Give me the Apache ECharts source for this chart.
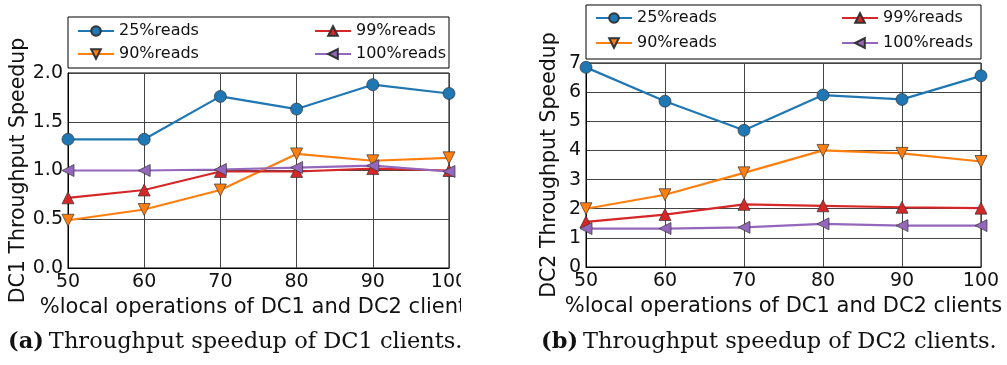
<!DOCTYPE html>
<html><head><meta charset="utf-8">
<script src="https://cdn.jsdelivr.net/npm/echarts@6/dist/echarts.min.js"></script>
<style>html,body{margin:0;padding:0;background:#fff}#c{width:1007px;height:365px}</style>
</head><body><div id="c"></div>
<script>
const xValues = [50, 60, 70, 80, 90, 100];
const seriesNames = ['25%reads', '90%reads', '99%reads', '100%reads'];
// DC1 throughput speedup
const dc1_25 = [1.32, 1.32, 1.76, 1.63, 1.88, 1.79];
const dc1_90 = [0.49, 0.60, 0.80, 1.17, 1.10, 1.13];
const dc1_99 = [0.72, 0.80, 0.99, 0.99, 1.02, 1.00];
const dc1_100 = [1.00, 1.00, 1.01, 1.03, 1.05, 0.99];
// DC2 throughput speedup
const dc2_25 = [6.85, 5.69, 4.69, 5.90, 5.75, 6.56];
const dc2_90 = [2.00, 2.48, 3.23, 4.00, 3.90, 3.62];
const dc2_99 = [1.55, 1.80, 2.15, 2.10, 2.05, 2.02];
const dc2_100 = [1.32, 1.32, 1.36, 1.48, 1.42, 1.42];
const xTitle = '%local operations of DC1 and DC2 clients';
const yTitles = ['DC1 Throughput Speedup', 'DC2 Throughput Speedup'];
const captions = [['(a)', 'Throughput speedup of DC1 clients.'], ['(b)', 'Throughput speedup of DC2 clients.']];

const colors = ['#1f77b4', '#ff7f0e', '#d62728', '#9467bd'];
const symbols = ['circle', 'triangle', 'triangle', 'triangle'];
const rotations = [0, 180, 0, 90];
const FONT = 'DejaVu Sans';

function mk(name, data, idx, axis) {
  return {
    name: name, type: 'line', xAxisIndex: axis, yAxisIndex: axis,
    data: data.map((v, i) => [xValues[i], v]),
    color: colors[idx],
    symbol: symbols[idx], symbolRotate: rotations[idx], symbolSize: 12,
    showAllSymbol: true,
    lineStyle: { width: 2.2, color: colors[idx] },
    itemStyle: { color: colors[idx], borderColor: '#333', borderWidth: 0.7 },
    emphasis: { disabled: true },
    animation: false, clip: false
  };
}
const sets = [[dc1_25, dc1_90, dc1_99, dc1_100], [dc2_25, dc2_90, dc2_99, dc2_100]];
const series = [];
sets.forEach((s, a) => s.forEach((d, i) => series.push(mk(seriesNames[i], d, i, a))));

const grids = [
  { left: 68, top: 73, width: 381, height: 195 },
  { left: 586, top: 63, width: 395, height: 204 }
];
function xAx(g) {
  return {
    type: 'value', gridIndex: g, min: 50, max: 100, interval: 10,
    axisLine: { show: true, lineStyle: { color: '#000', width: 1 } },
    axisTick: { show: false },
    axisLabel: { color: '#111', fontFamily: FONT, fontSize: 19, margin: 5 },
    splitLine: { show: true, lineStyle: { color: '#444', width: 1 } },
    name: xTitle, nameLocation: 'middle', nameGap: 19,
    nameTextStyle: { color: '#111', fontFamily: FONT, fontSize: 21 }
  };
}
function yAx(g, max, interval, digits, gap) {
  return {
    type: 'value', gridIndex: g, min: 0, max: max, interval: interval,
    axisLine: { show: true, lineStyle: { color: '#000', width: 1 } },
    axisTick: { show: false },
    axisLabel: { color: '#111', fontFamily: FONT, fontSize: 19, margin: 5,
      formatter: v => v.toFixed(digits) },
    splitLine: { show: true, lineStyle: { color: '#444', width: 1 } },
    name: yTitles[g], nameLocation: 'middle', nameGap: gap, nameRotate: 90,
    nameTextStyle: { color: '#111', fontFamily: FONT, fontSize: 20.5 }
  };
}
function lg(left, top, names, gap) {
  return {
    left: left, top: top, orient: 'vertical', itemGap: gap, itemWidth: 36, itemHeight: 12,
    data: names, selectedMode: false,
    textStyle: { fontFamily: FONT, fontSize: 16, color: '#111' }
  };
}
const option = {
  animation: false,
  grid: grids.map(g => Object.assign({ show: true, borderColor: '#000', borderWidth: 1, backgroundColor: 'transparent' }, g)),
  xAxis: [xAx(0), xAx(1)],
  yAxis: [yAx(0, 2, 0.5, 1, 39), yAx(1, 7, 1, 0, 26)],
  legend: [
    lg(72, 18, [seriesNames[0], seriesNames[1]], 7),
    lg(309, 18, [seriesNames[2], seriesNames[3]], 7),
    lg(590, 5, [seriesNames[0], seriesNames[1]], 9),
    lg(836, 5, [seriesNames[2], seriesNames[3]], 9)
  ],
  title: captions.map((c, i) => ({
    text: '{b|' + c[0] + '} {n|' + c[1] + '}',
    left: i === 0 ? 8 : 541, top: 331, padding: 0,
    textStyle: { fontWeight: 'normal', rich: {
      b: { fontFamily: 'DejaVu Serif', fontWeight: 'bold', fontSize: 22.5, color: '#111' },
      n: { fontFamily: 'DejaVu Serif', fontWeight: 'normal', fontSize: 22.5, color: '#111' }
    } }
  })),
  graphic: [
    { type: 'rect', shape: { x: 68, y: 17, width: 381, height: 51 }, style: { fill: 'none', stroke: '#000', lineWidth: 1 }, z: 10 },
    { type: 'rect', shape: { x: 586, y: 5, width: 395, height: 54 }, style: { fill: 'none', stroke: '#000', lineWidth: 1 }, z: 10 },
    { type: 'rect', shape: { x: 461, y: 270, width: 68, height: 50 }, style: { fill: '#fff' }, z: 100 }
  ],
  series: series
};
const chart = echarts.init(document.getElementById('c'), null, { renderer: 'canvas' });
chart.setOption(option);
</script></body></html>
